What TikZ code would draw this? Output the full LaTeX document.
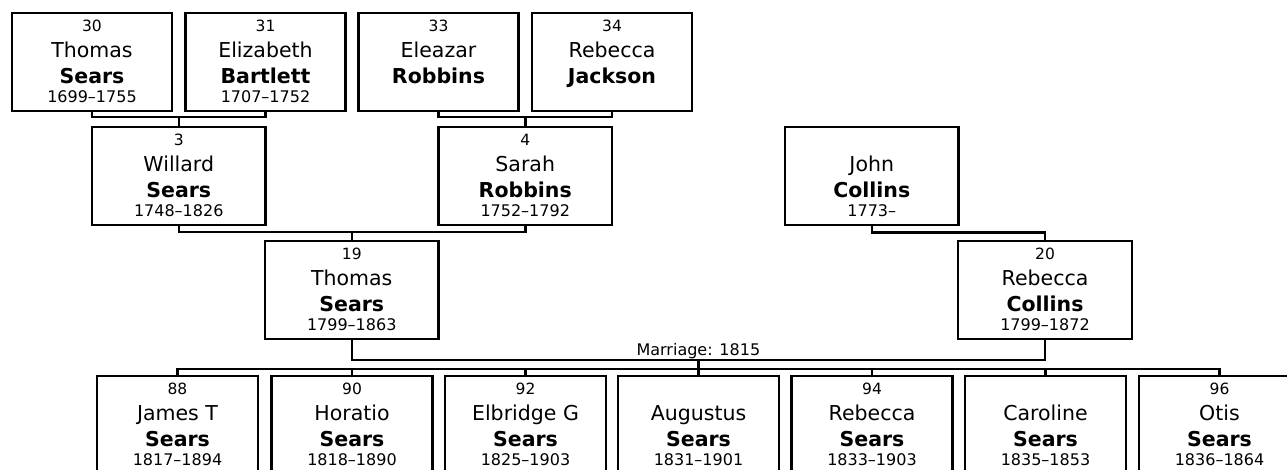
\documentclass[tikz,border=0pt]{standalone}
\usepackage{fontspec}
\setmainfont{DejaVu Sans}
\usetikzlibrary{calc}
\tikzset{
  pbox/.style={draw, line width=2.5pt, rectangle, outer sep=0pt, inner sep=0pt, minimum height=98pt, anchor=north west},
  numtxt/.style={anchor=base, inner sep=0pt, font=\fontsize{15.5pt}{19pt}\selectfont},
  firsttxt/.style={anchor=base, inner sep=0pt, font=\fontsize{20.5pt}{24pt}\selectfont},
  lasttxt/.style={anchor=base, inner sep=0pt, font=\fontsize{20.5pt}{24pt}\selectfont\bfseries},
  yeartxt/.style={anchor=base, inner sep=0pt, font=\fontsize{16pt}{19pt}\selectfont},
  conn/.style={draw, line width=2.5pt, line join=miter},
  mtxt/.style={anchor=base, inner sep=0pt, font=\fontsize{16pt}{19pt}\selectfont}
}
% #1 name, #2 left x, #3 top y, #4 width, #5 number, #6 first, #7 last, #8 years
\newcommand\personbox[8]{%
  \node[pbox, minimum width=#4pt] (#1) at (#2,#3) {};
  \node[numtxt]   (#1-n) at ([yshift=-18pt]#1.north) {#5};
  \node[firsttxt] (#1-f) at ([yshift=-44.5pt]#1.north) {#6};
  \node[lasttxt]  (#1-l) at ([yshift=-70.8pt]#1.north) {#7};
  \node[yeartxt]  (#1-y) at ([yshift=-89pt]#1.north) {#8};
}
\begin{document}
\begin{tikzpicture}[x=1pt,y=-1pt]
\useasboundingbox (0,0) rectangle (1287,469);
% row 1
\personbox{p30}{12}{13}{160}{30}{Thomas}{Sears}{1699–1755}
\personbox{p31}{185.5}{13}{160}{31}{Elizabeth}{Bartlett}{1707–1752}
\personbox{p33}{358.5}{13}{160}{33}{Eleazar}{Robbins}{}
\personbox{p34}{532}{13}{160}{34}{Rebecca}{Jackson}{}
% row 2
\personbox{p3}{92}{127}{173.5}{3}{Willard}{Sears}{1748–1826}
\personbox{p4}{438.5}{127}{173.5}{4}{Sarah}{Robbins}{1752–1792}
\personbox{pJ}{785}{127}{173.5}{}{John}{Collins}{1773–}
% row 3
\personbox{p19}{265}{241}{173.5}{19}{Thomas}{Sears}{1799–1863}
\personbox{p20}{958}{241}{174}{20}{Rebecca}{Collins}{1799–1872}
% row 4 children
\personbox{c88}{97}{376}{161}{88}{James T}{Sears}{1817–1894}
\personbox{c90}{271.5}{376}{161}{90}{Horatio}{Sears}{1818–1890}
\personbox{c92}{445}{376}{161}{92}{Elbridge G}{Sears}{1825–1903}
\personbox{c93}{618}{376}{161}{}{Augustus}{Sears}{1831–1901}
\personbox{c94}{791.5}{376}{161}{94}{Rebecca}{Sears}{1833–1903}
\personbox{c95}{965}{376}{161}{}{Caroline}{Sears}{1835–1853}
\personbox{c96}{1139}{376}{161}{96}{Otis}{Sears}{1836–1864}
% connectors row1 -> row2
\draw[conn] (p30.south) -- ++(0,6) -| (p31.south);
\draw[conn] (p3.north) -- ++(0,-10);
\draw[conn] (p33.south) -- ++(0,6) -| (p34.south);
\draw[conn] (p4.north) -- ++(0,-10);
% row2 -> row3
\draw[conn] (p3.south) -- ++(0,7) -| (p4.south);
\draw[conn] (p19.north) -- ++(0,-8);
\draw[conn] (pJ.south) -- ++(0,7.5) -| (p20.north);
% marriage
\draw[conn] (p19.south) -- ++(0,21) -| (p20.south);
\coordinate (m) at ($(p19.south)!.5!(p20.south)+(0,21)$);
\node[mtxt] (mlabel) at ($(m)+(0,-4.5)$) {Marriage: 1815};
\draw[conn] (m) -- ++(0,8);
\draw[conn] (c88.north) -- ++(0,-7) -| (c96.north);
\foreach \c in {c90,c92,c93,c94,c95} \draw[conn] (\c.north) -- ++(0,-7);
\end{tikzpicture}
\end{document}
